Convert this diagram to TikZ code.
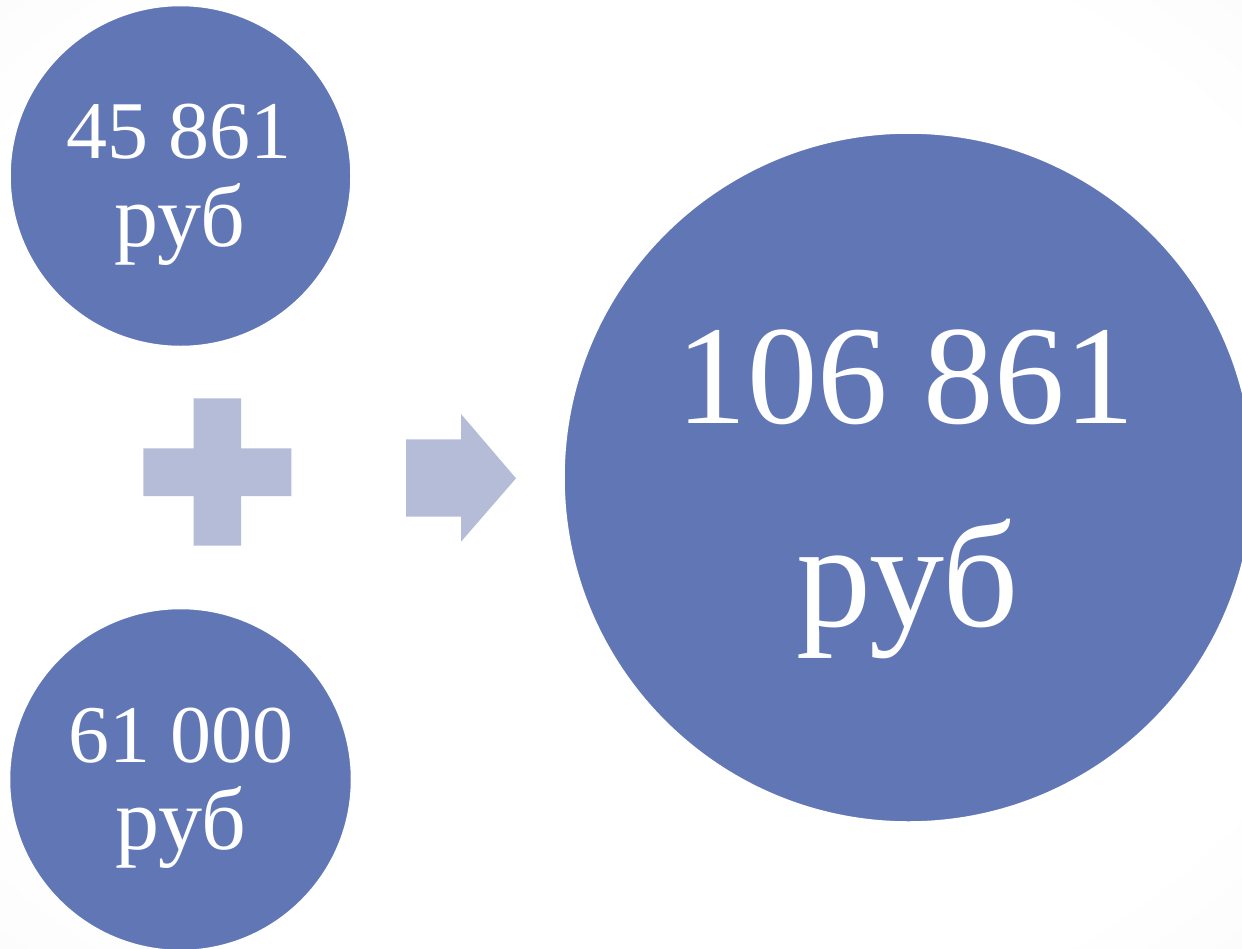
\documentclass[tikz,border=0pt]{standalone}
\usepackage{fontspec}
\setmainfont{Liberation Serif}
\definecolor{circblue}{HTML}{6177B5}
\definecolor{lightblue}{HTML}{B4BCD8}
\pgfdeclareradialshading{vign}{\pgfpoint{0bp}{0bp}}{color(0bp)=(white); color(30bp)=(white); color(72bp)=(black!9)}
\tikzset{
  bubble/.style={circle, fill=circblue, draw=white, line width=1.5pt, inner sep=0pt},
  smalltxt/.style={text=white, anchor=base, inner sep=0pt, font=\fontsize{82}{92}\selectfont},
  smallrub/.style={text=white, anchor=base, inner sep=0pt, font=\fontsize{88}{96}\selectfont},
  bigtxt/.style={text=white, anchor=base, inner sep=0pt, font=\fontsize{141}{150}\selectfont},
  bigrub/.style={text=white, anchor=base, inner sep=0pt, font=\fontsize{150}{160}\selectfont},
  shapefill/.style={fill=lightblue, draw=none}
}
\begin{document}
\begin{tikzpicture}[x=1pt,y=-1pt]
\useasboundingbox (0,0) rectangle (1242,948);
\shade[shading=vign] (0,0) rectangle (1242,948);
\begin{scope}
\clip (0,0) rectangle (1242,948);
% circles
\node[bubble, minimum size=341pt] (c1) at (180.5,176) {};
\node[bubble, minimum size=342pt] (c2) at (180.5,779.5) {};
\node[bubble, minimum size=689pt] (c3) at (908.5,477.5) {};
\end{scope}
% texts
\node[smalltxt] (t1a) at (179,158) {45 861};
\node[smallrub] (t1b) at (180,246) {руб};
\node[smalltxt] (t2a) at (181,762) {61 000};
\node[smallrub] (t2b) at (181,849) {руб};
\node[bigtxt] (t3a) at (906,423) {106 861};
\node[bigrub] (t3b) at (908,626) {руб};
% plus
\fill[shapefill] (193.5,398.3) -- (241,398.3) -- (241,448.3) -- (291.3,448.3) -- (291.3,496) -- (241,496) -- (241,545.7) -- (193.5,545.7) -- (193.5,496) -- (143.3,496) -- (143.3,448.3) -- (193.5,448.3) -- cycle;
% arrow
\fill[shapefill] (406,439.3) -- (461,439.3) -- (461,414) -- (516,478.3) -- (461,541.7) -- (461,516.7) -- (406,516.7) -- cycle;
\end{tikzpicture}
\end{document}
